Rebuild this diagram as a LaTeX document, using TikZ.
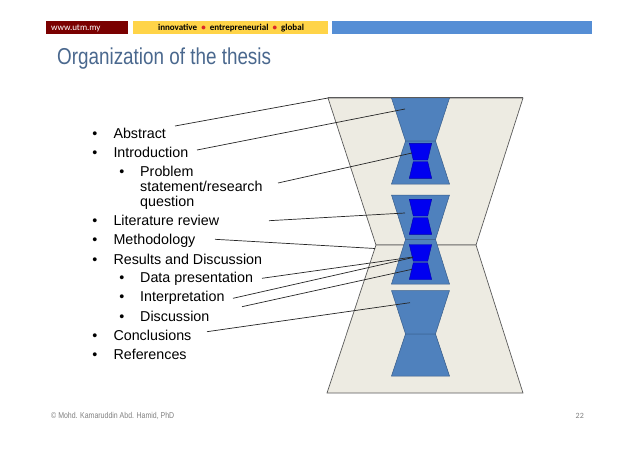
\documentclass[tikz,border=0pt]{standalone}
\usepackage{fontspec}
\setmainfont{Liberation Sans}
\newfontfamily\narrowfont[FakeStretch=0.82]{Liberation Sans}
\newfontfamily\calibfont{Carlito}
\definecolor{maroon}{RGB}{122,0,0}
\definecolor{barYellow}{RGB}{255,212,72}
\definecolor{barBlue}{RGB}{85,142,213}
\definecolor{titleblue}{RGB}{74,104,142}
\definecolor{beige}{RGB}{237,235,226}
\definecolor{edgegray}{RGB}{90,90,90}
\definecolor{midblue}{RGB}{79,129,189}
\definecolor{bluedark}{RGB}{56,93,138}
\definecolor{deepblue}{RGB}{0,0,240}
\definecolor{bulletred}{RGB}{220,40,40}
\definecolor{footgray}{RGB}{128,128,128}
\begin{document}
\begin{tikzpicture}[x=1pt,y=-1pt,
  bodytext/.style={anchor=base west, inner sep=0, font=\fontsize{14.3}{17}\selectfont},
  bulletmark/.style={anchor=base, inner sep=0, font=\fontsize{14.3}{17}\selectfont},
  leader/.style={draw=black!85, line width=0.7pt},
  outer/.style={fill=beige, draw=edgegray, line width=0.7pt},
  bluepart/.style={fill=midblue, draw=bluedark, line width=0.5pt},
  darkpart/.style={fill=deepblue, draw=deepblue!70!black, line width=0.4pt},
  smallglass/.pic={
    \path[darkpart] (-11.2,0) -- (11.2,0) -- (7.2,16.7) -- (-7.2,16.7) -- cycle;
    \path[darkpart] (-7.2,18.4) -- (7.2,18.4) -- (11.2,35) -- (-11.2,35) -- cycle;
  }]
\useasboundingbox (0,0) rectangle (638,452);
\fill[white] (0,0) rectangle (638,452);

% header bars
\fill[maroon] (46,21) rectangle (128,34);
\fill[barYellow] (133,21) rectangle (328,34);
\fill[barBlue] (332,21) rectangle (592,34);
\node[anchor=base west, inner sep=0, text=white, font=\calibfont\fontsize{9}{10}\selectfont] (site) at (51,30.8) {www.utm.my};
\node[anchor=base, inner sep=0, text=black, font=\calibfont\bfseries\fontsize{9}{10}\selectfont] (motto) at (231,30.8)
  {innovative\ \ \textcolor{bulletred}{•}\ \ entrepreneurial\ \ \textcolor{bulletred}{•}\ \ global};

% title
\node[anchor=base west, inner sep=0, text=titleblue, font=\narrowfont\fontsize{23}{26}\selectfont] (title) at (57,65) {Organization of the thesis};

% outer hourglass
\draw[outer] (328,98) -- (523,98) -- (476,245) -- (376,245) -- cycle;
\draw[outer] (376,245) -- (476,245) -- (523,393) -- (327,393) -- cycle;

% blue hourglasses
\path[bluepart] (391.5,98) -- (449.5,98) -- (435.5,141) -- (405.5,141) -- cycle;
\path[bluepart] (405.5,141) -- (435.5,141) -- (449.5,184) -- (391.5,184) -- cycle;
\path[bluepart] (391.5,195) -- (449.5,195) -- (435.5,239.5) -- (405.5,239.5) -- cycle;
\path[bluepart] (405.5,239.5) -- (435.5,239.5) -- (449.5,284) -- (391.5,284) -- cycle;
\path[bluepart] (391.5,290.5) -- (449.5,290.5) -- (435.5,334) -- (405.5,334) -- cycle;
\path[bluepart] (405.5,334) -- (435.5,334) -- (449.5,376) -- (391.5,376) -- cycle;
\draw[edgegray, line width=1pt] (328,98) -- (523,98);

% small dark hourglasses
\pic at (420.5,143.3) {smallglass};
\pic at (420.5,199.3) {smallglass};
\pic at (420.5,244.5) {smallglass};

% bullets and texts
\node[bulletmark] (b1) at (95,138.3) {•};
\node[bodytext] (abstract) at (113.3,138.3) {Abstract};
\node[bulletmark] (b2) at (95,157.3) {•};
\node[bodytext] (intro) at (113.3,157.3) {Introduction};
\node[bulletmark] (b3) at (122,176) {•};
\node[bodytext] (prob1) at (140,176) {Problem};
\node[bodytext] (prob2) at (140,191.7) {statement/research};
\node[bodytext] (prob3) at (140,206.7) {question};
\node[bulletmark] (b4) at (95,225.7) {•};
\node[bodytext] (lit) at (113.3,225.7) {Literature review};
\node[bulletmark] (b5) at (95,244.7) {•};
\node[bodytext] (meth) at (113.3,244.7) {Methodology};
\node[bulletmark] (b6) at (95,264) {•};
\node[bodytext] (results) at (113.3,264) {Results and Discussion};
\node[bulletmark] (b7) at (122,282.7) {•};
\node[bodytext] (data) at (140,282.7) {Data presentation};
\node[bulletmark] (b8) at (122,301.7) {•};
\node[bodytext] (interp) at (140,301.7) {Interpretation};
\node[bulletmark] (b9) at (122,321) {•};
\node[bodytext] (disc) at (140,321) {Discussion};
\node[bulletmark] (b10) at (95,340) {•};
\node[bodytext] (concl) at (113.3,340) {Conclusions};
\node[bulletmark] (b11) at (95,359) {•};
\node[bodytext] (refs) at (113.3,359) {References};

% connector end points
\coordinate (absS) at (175,126);     \coordinate (absE) at (328,98);
\coordinate (intS) at (197,150);     \coordinate (intE) at (405,109);
\coordinate (proS) at (278,183);     \coordinate (proE) at (412,153);
\coordinate (litS) at (269,220.7);   \coordinate (litE) at (405,213);
\coordinate (metS) at (215,239.3);   \coordinate (metE) at (375,248.5);
\coordinate (datS) at (262,278.3);   \coordinate (datE) at (413,257);
\coordinate (itpS) at (233,298.3);   \coordinate (itpE) at (413,257.5);
\coordinate (disS) at (242,306.7);   \coordinate (disE) at (412,269.3);
\coordinate (conS) at (207,331.7);   \coordinate (conE) at (410,302.7);
\draw[leader] (absS) -- (absE);
\draw[leader] (intS) -- (intE);
\draw[leader] (proS) -- (proE);
\draw[leader] (litS) -- (litE);
\draw[leader] (metS) -- (metE);
\draw[leader] (datS) -- (datE);
\draw[leader] (itpS) -- (itpE);
\draw[leader] (disS) -- (disE);
\draw[leader] (conS) -- (conE);

% footer
\node[anchor=base west, inner sep=0, text=footgray, font=\narrowfont\fontsize{8.5}{10}\selectfont] (credit) at (51,418) {© Mohd. Kamaruddin Abd. Hamid, PhD};
\node[anchor=base east, inner sep=0, text=footgray, font=\calibfont\fontsize{8}{10}\selectfont] (pagenum) at (584,418) {22};
\end{tikzpicture}
\end{document}
